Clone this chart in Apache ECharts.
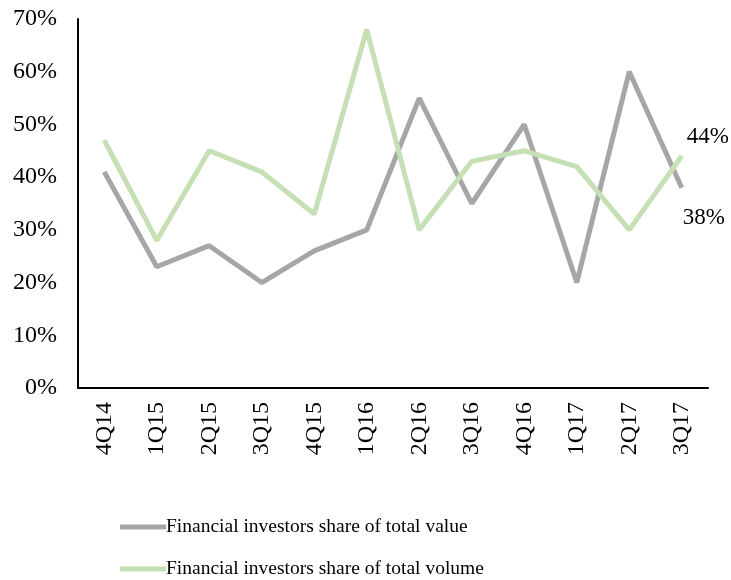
<!DOCTYPE html>
<html>
<head>
<meta charset="utf-8">
<script src="https://cdn.jsdelivr.net/npm/echarts@6/dist/echarts.min.js"></script>
<style>
  html, body { margin: 0; padding: 0; background: #fff; }
  #chart { width: 731px; height: 580px; }
</style>
</head>
<body>
<div id="chart"></div>
<script>
const quarters = ["4Q14", "1Q15", "2Q15", "3Q15", "4Q15", "1Q16", "2Q16", "3Q16", "4Q16", "1Q17", "2Q17", "3Q17"];
// share of total value (%)
const valueShare = [41, 23, 27, 20, 26, 30, 55, 35, 50, 20, 60, 38];
// share of total volume (%)
const volumeShare = [47, 28, 45, 41, 33, 68, 30, 43, 45, 42, 30, 44];

const valueName = "Financial investors share of total value";
const volumeName = "Financial investors share of total volume";

const font = "'Liberation Serif', 'DejaVu Serif', serif";
const chart = echarts.init(document.getElementById("chart"));

// only the last point of each line carries a label
const lastLabel = (pos, offset) => ({
  show: true,
  position: pos,
  offset: offset,
  formatter: (p) => (p.dataIndex === quarters.length - 1 ? p.value + "%" : ""),
  fontFamily: font,
  fontSize: 23,
  color: "#000",
});

const legendBase = {
  left: 115,
  itemWidth: 46,
  itemHeight: 5,
  icon: "rect",
  textStyle: { fontFamily: font, fontSize: 19.5, color: "#000", padding: [0, 0, 0, -5] },
};

chart.setOption({
  animation: false,
  grid: { left: 78, right: 23, top: 19, bottom: 192 },
  legend: [
    Object.assign({ top: 512, data: [valueName] }, legendBase),
    Object.assign({ top: 554, data: [volumeName] }, legendBase),
  ],
  xAxis: {
    type: "category",
    data: quarters,
    axisLine: { lineStyle: { color: "#000", width: 2 } },
    axisTick: { show: false },
    axisLabel: { rotate: 90, fontFamily: font, fontSize: 24, color: "#000", margin: 14 },
  },
  yAxis: {
    type: "value",
    min: 0,
    max: 70,
    interval: 10,
    axisLine: { show: true, lineStyle: { color: "#000", width: 2 } },
    axisTick: { show: false },
    splitLine: { show: false },
    axisLabel: { formatter: "{value}%", fontFamily: font, fontSize: 24, color: "#000", margin: 21 },
  },
  series: [
    {
      name: valueName,
      type: "line",
      data: valueShare,
      symbol: "circle",
      symbolSize: 0.1,
      showSymbol: true,
      lineStyle: { color: "#A6A6A6", width: 5 },
      itemStyle: { color: "#A6A6A6" },
      label: lastLabel("bottom", [22, 14]),
    },
    {
      name: volumeName,
      type: "line",
      data: volumeShare,
      symbol: "circle",
      symbolSize: 0.1,
      showSymbol: true,
      lineStyle: { color: "#C5E0B4", width: 5 },
      itemStyle: { color: "#C5E0B4" },
      label: lastLabel("top", [26, -3]),
    },
  ],
});
</script>
</body>
</html>
